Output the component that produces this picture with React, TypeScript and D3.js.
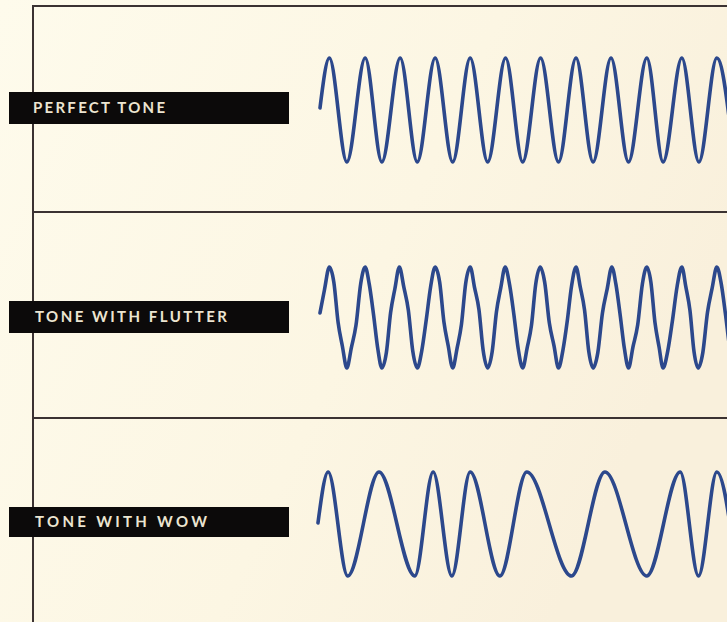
import * as d3 from "d3";

const WIDTH = 727;
const HEIGHT = 622;

// labels for the three strips
const panelLabels = ["PERFECT TONE", "TONE WITH FLUTTER", "TONE WITH WOW"];

// waveforms: [time (0..100 across the strip), amplitude -1..1]
const perfectTone: [number, number][] = [
  [0, 0.04], [2.3, 1], [6.6, -1], [11.1, 1], [15.2, -1], [19.7, 1], [23.9, -1],
  [28.3, 1], [32.6, -1], [36.9, 1], [41.2, -1], [45.6, 1], [49.8, -1], [54.2, 1],
  [58.6, -1], [62.9, 1], [67.1, -1], [71.5, 1], [75.8, -1], [80.3, 1], [84.3, -1],
  [88.9, 1], [93.1, -1], [97.5, 1], [101.8, -1],
];

const flutterTone: [number, number][] = [
  [0, 0.09], [1.1, 0.55], [2.3, 1],
  [3.4, 0.7], [4.45, -0.1], [5.5, -0.57], [6.6, -1],
  [7.7, -0.6], [8.85, -0.15], [10.0, 0.67], [11.1, 1],
  [12.1, 0.66], [13.15, 0.06], [14.2, -0.62], [15.2, -1],
  [16.3, -0.7], [17.35, 0.1], [18.4, 0.57], [19.5, 1],
  [20.6, 0.6], [21.7, 0.15], [22.8, -0.67], [23.9, -1],
  [25.0, -0.66], [26.1, -0.05], [27.2, 0.62], [28.3, 1],
  [29.4, 0.7], [30.45, -0.09], [31.5, -0.56], [32.6, -1],
  [33.7, -0.6], [34.75, -0.14], [35.8, 0.68], [36.9, 1],
  [38.0, 0.58], [39.05, 0.16], [40.1, -0.66], [41.2, -1],
  [42.3, -0.68], [43.35, 0.11], [44.4, 0.58], [45.5, 1],
  [46.6, 0.64], [47.65, 0.05], [48.7, -0.62], [49.8, -1],
  [50.9, -0.6], [51.95, -0.16], [53.0, 0.66], [54.1, 1],
  [55.2, 0.7], [56.35, -0.11], [57.5, -0.56], [58.6, -1],
  [59.7, -0.64], [60.75, -0.07], [61.8, 0.62], [62.9, 1],
  [63.95, 0.6], [65.0, 0.15], [66.05, -0.68], [67.1, -1],
  [68.25, -0.7], [69.4, 0.09], [70.55, 0.56], [71.7, 1],
  [72.7, 0.66], [73.75, 0.05], [74.8, -0.62], [75.8, -1],
  [76.9, -0.58], [78.05, -0.15], [79.2, 0.66], [80.3, 1],
  [81.3, 0.7], [82.3, -0.1], [83.3, -0.58], [84.3, -1],
  [85.45, -0.66], [86.6, -0.06], [87.75, 0.62], [88.9, 1],
  [89.9, 0.6], [90.9, 0.14], [91.9, -0.68], [92.9, -1],
  [94.05, -0.7], [95.2, 0.1], [96.35, 0.58], [97.5, 1],
  [98.6, 0.66], [99.65, 0.05], [100.7, -0.62], [101.8, -1],
];

const wowTone: [number, number][] = [
  [-0.5, 0.02], [2.0, 1], [6.8, -1], [14.5, 1], [23.3, -1], [27.8, 1], [32.4, -1],
  [36.9, 1], [44.2, -1], [50.8, 1], [61.8, -1], [70.0, 1], [80.3, -1], [88.5, 1],
  [93.0, -1], [97.5, 1], [102.5, -1],
];

const waves = [perfectTone, flutterTone, wowTone];

// layout per strip
const PANELS = [
  { center: 110, amp: 52, barTop: 92, barH: 32, baseline: 113, textW: 132, textX: 33 },
  { center: 317.5, amp: 50.5, barTop: 301, barH: 32, baseline: 322, textW: 192, textX: 35 },
  { center: 524, amp: 52, barTop: 507, barH: 30, baseline: 527, textW: 172, textX: 35 },
];
const SEPARATORS = [212, 418];
const FRAME_X = 33;
const FRAME_TOP = 6;
const INK = "#3b3232";
const BLUE = "#2c488c";

export default function App() {
  const xScale = d3.scaleLinear().domain([0, 100]).range([320, WIDTH]);

  return (
    <div style={{ position: "absolute", left: 0, top: 0 }}>
      <svg width={WIDTH} height={HEIGHT} style={{ display: "block" }}>
        <defs>
          <linearGradient id="paper" x1="0" y1="0" x2="1" y2="0.4">
            <stop offset="0" stopColor="#fefbec" />
            <stop offset="0.6" stopColor="#fcf6e3" />
            <stop offset="1" stopColor="#f9f0dc" />
          </linearGradient>
        </defs>
        <rect width={WIDTH} height={HEIGHT} fill="url(#paper)" />

        {/* frame */}
        <line x1={FRAME_X - 1} x2={WIDTH} y1={FRAME_TOP} y2={FRAME_TOP} stroke={INK} strokeWidth={2} />
        <line x1={FRAME_X} x2={FRAME_X} y1={FRAME_TOP - 1} y2={HEIGHT} stroke={INK} strokeWidth={2} />
        {SEPARATORS.map((y) => (
          <line key={y} x1={FRAME_X} x2={WIDTH} y1={y} y2={y} stroke={INK} strokeWidth={2} />
        ))}

        {PANELS.map((p, i) => {
          const yScale = d3
            .scaleLinear()
            .domain([-1, 1])
            .range([p.center + p.amp, p.center - p.amp]);
          const line = d3
            .line<[number, number]>()
            .x((d) => xScale(d[0]))
            .y((d) => yScale(d[1]))
            .curve(d3.curveMonotoneX);
          return (
            <g key={i}>
              <rect x={9} y={p.barTop} width={280} height={p.barH} fill="#0c0a0a" />
              <text
                x={p.textX}
                y={p.baseline}
                textLength={p.textW}
                lengthAdjust="spacing"
                fill="#ece5d1"
                fontFamily="Lato, 'DejaVu Sans', sans-serif"
                fontWeight={700}
                fontSize={15}
              >
                {panelLabels[i]}
              </text>
              <path
                d={line(waves[i]) ?? ""}
                fill="none"
                stroke={BLUE}
                strokeWidth={3.6}
                strokeLinecap="round"
                strokeLinejoin="round"
              />
            </g>
          );
        })}
      </svg>
    </div>
  );
}
